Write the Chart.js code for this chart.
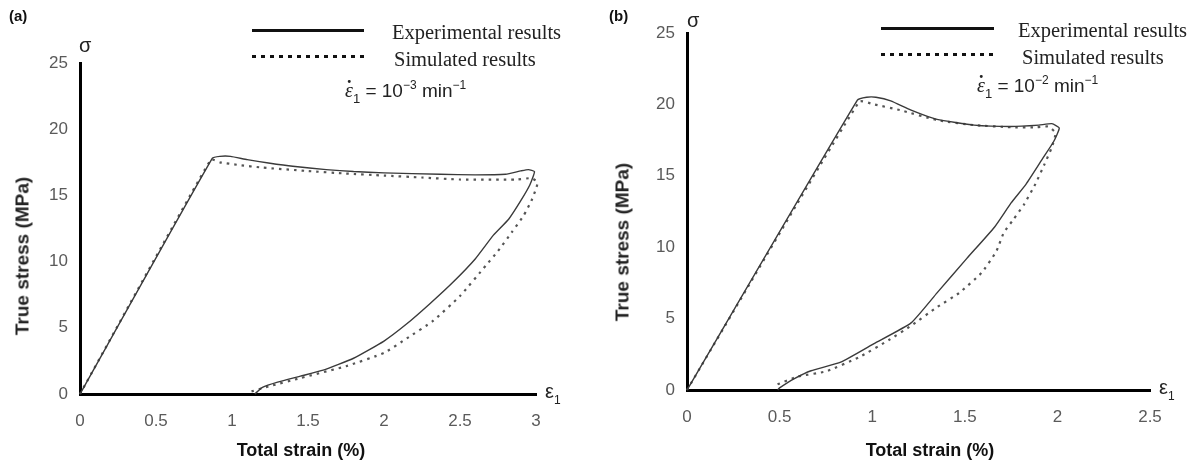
<!DOCTYPE html>
<html>
<head>
<meta charset="utf-8">
<script src="https://cdn.jsdelivr.net/npm/chart.js@4.4.1/dist/chart.umd.min.js"></script>
<style>
  html, body { margin: 0; padding: 0; background: #fff; }
  body { width: 1201px; height: 466px; position: relative; overflow: hidden; font-family: "Liberation Sans", Arial, sans-serif; }
  canvas { position: absolute; top: 0; }
  .t { position: absolute; white-space: nowrap; line-height: 1; transform: translateY(-50%); }
  .bold { font-weight: bold; color: #111; }
  .ytitle { position: absolute; white-space: nowrap; font-weight: bold; font-size: 19px; color: #222; transform: translate(-50%, -50%) rotate(-90deg); line-height: 1; }
  .xtitle { position: absolute; white-space: nowrap; font-weight: bold; font-size: 18px; color: #111; transform: translate(-50%, -50%); line-height: 1; }
  .leg { position: absolute; white-space: nowrap; font-family: "Liberation Serif", serif; font-size: 20.5px; color: #222; transform: translateY(-50%); line-height: 1; }
  .solid { position: absolute; height: 3px; background: #111; }
  .dots { position: absolute; height: 3px; background: repeating-linear-gradient(90deg, #111 0 4px, transparent 4px 9px); }
  .formula { position: absolute; white-space: nowrap; font-size: 19px; color: #222; transform: translateY(-50%); line-height: 1; }
  .formula sup { font-size: 12px; vertical-align: 8px; }
  .formula sub { font-size: 13px; vertical-align: -6px; }
  .eps { position: relative; display: inline-block; font-family: "Liberation Serif", serif; font-style: italic; font-size: 20px; }
  .eps .dot { position: absolute; left: 2px; top: -12px; font-style: normal; font-weight: bold; font-size: 18px; }
  .sym { position: absolute; font-size: 20px; color: #222; transform: translateY(-50%); line-height: 1; }
  .sym sub { font-size: 12px; vertical-align: -6px; }
</style>
</head>
<body>
<canvas id="ca" width="600" height="466" style="left:0px"></canvas>
<canvas id="cb" width="601" height="466" style="left:600px"></canvas>

<!-- panel (a) text -->
<div class="t bold" style="left:9px;top:15px;font-size:15px;">(a)</div>
<div class="sym" style="left:79px;top:45px;">σ</div>
<div class="sym" style="left:545px;top:393px;">ε<sub>1</sub></div>
<div class="ytitle" style="left:22px;top:256px;">True stress (MPa)</div>
<div class="xtitle" style="left:301px;top:450px;">Total strain (%)</div>
<div class="solid" style="left:252px;top:29px;width:112px;"></div>
<div class="leg" style="left:392px;top:32px;">Experimental results</div>
<div class="dots" style="left:252px;top:55px;width:112px;"></div>
<div class="leg" style="left:394px;top:59px;">Simulated results</div>
<div class="formula" style="left:345px;top:92px;"><span class="eps">ε<span class="dot">.</span></span><sub>1</sub> = 10<sup>−3</sup> min<sup>−1</sup></div>

<!-- panel (b) text -->
<div class="t bold" style="left:609px;top:15px;font-size:15px;">(b)</div>
<div class="sym" style="left:687px;top:20px;">σ</div>
<div class="sym" style="left:1159px;top:389px;">ε<sub>1</sub></div>
<div class="ytitle" style="left:622px;top:242px;">True stress (MPa)</div>
<div class="xtitle" style="left:930px;top:450px;">Total strain (%)</div>
<div class="solid" style="left:881px;top:27px;width:113px;"></div>
<div class="leg" style="left:1018px;top:30px;">Experimental results</div>
<div class="dots" style="left:881px;top:53px;width:113px;"></div>
<div class="leg" style="left:1022px;top:57px;">Simulated results</div>
<div class="formula" style="left:977px;top:87px;"><span class="eps">ε<span class="dot">.</span></span><sub>1</sub> = 10<sup>−2</sup> min<sup>−1</sup></div>

<script>
// ---------- Data: panel (a), strain rate 1e-3 /min ----------
const strainExpA = [0, 0.87, 0.92, 0.99, 1.1, 1.24, 1.4, 1.62, 1.8, 2.0, 2.37, 2.6, 2.8, 2.9, 2.95, 2.99, 2.96, 2.9, 2.82, 2.72, 2.6, 2.45, 2.3, 2.15, 2.0, 1.8, 1.6, 1.45, 1.3, 1.2, 1.15];
const stressExpA = [0, 17.8, 17.95, 17.95, 17.7, 17.45, 17.2, 16.95, 16.8, 16.7, 16.6, 16.55, 16.6, 16.85, 16.95, 16.8, 15.8, 14.6, 13.2, 12.0, 10.2, 8.4, 6.8, 5.3, 4.0, 2.7, 1.8, 1.35, 0.9, 0.5, 0];
const strainSimA = [0, 0.86, 0.92, 1.04, 1.2, 1.49, 1.75, 2.0, 2.25, 2.5, 2.87, 2.97, 3.01, 3.0, 2.97, 2.92, 2.84, 2.75, 2.67, 2.5, 2.32, 2.15, 2.0, 1.75, 1.45, 1.25, 1.1];
const stressSimA = [0, 17.7, 17.5, 17.3, 17.1, 16.85, 16.65, 16.5, 16.35, 16.2, 16.2, 16.3, 16.0, 15.5, 14.6, 13.5, 12.2, 10.8, 9.7, 7.4, 5.5, 4.2, 3.1, 2.1, 1.2, 0.6, 0.1];

// ---------- Data: panel (b), strain rate 1e-2 /min ----------
const strainExpB = [0, 0.92, 0.97, 1.02, 1.1, 1.21, 1.35, 1.55, 1.75, 1.9, 1.97, 2.01, 1.98, 1.92, 1.83, 1.75, 1.66, 1.51, 1.35, 1.21, 1.01, 0.83, 0.67, 0.58, 0.5, 0.49];
const stressExpB = [0, 20.3, 20.5, 20.5, 20.25, 19.6, 18.95, 18.55, 18.45, 18.55, 18.65, 18.35, 17.4, 16.2, 14.4, 13.1, 11.4, 9.2, 6.8, 4.7, 3.25, 1.95, 1.35, 0.8, 0.15, 0];
const strainSimB = [0, 0.93, 1.01, 1.15, 1.35, 1.55, 1.75, 1.89, 1.95, 1.99, 1.97, 1.93, 1.88, 1.82, 1.76, 1.71, 1.67, 1.59, 1.47, 1.35, 1.21, 1.09, 0.93, 0.75, 0.6, 0.47];
const stressSimB = [0, 20.2, 20.0, 19.6, 18.9, 18.55, 18.4, 18.4, 18.45, 18.0, 17.0, 15.8, 14.4, 13.0, 11.9, 11.0, 9.7, 8.2, 6.8, 5.8, 4.5, 3.5, 2.3, 1.3, 0.95, 0.3];

// ---------- Axis ranges / tick steps ----------
const xRangeA = [0, 3], xStepA = 0.5;
const xRangeB = [0, 2.5], xStepB = 0.5;
const yRange = [0, 25], yStep = 5;

const toPts = (xs, ys) => xs.map((x, i) => ({ x: x, y: ys[i] }));

function makeChart(id, expX, expY, simX, simY, xRange, xStep, pad, yWidth, xHeight) {
  const tickFont = { family: "'Liberation Sans', Arial, sans-serif", size: 17 };
  const fmt = v => String(Math.round(v * 100) / 100);
  return new Chart(document.getElementById(id), {
    type: 'scatter',
    data: {
      datasets: [
        {
          label: 'Experimental results',
          data: toPts(expX, expY),
          showLine: true,
          borderColor: '#3a3a3a',
          borderWidth: 1.4,
          pointRadius: 0,
          tension: 0.15,
          clip: false
        },
        {
          label: 'Simulated results',
          data: toPts(simX, simY),
          showLine: true,
          borderColor: '#555',
          borderWidth: 2.2,
          borderDash: [2.5, 5],
          pointRadius: 0,
          tension: 0.15,
          clip: false
        }
      ]
    },
    options: {
      responsive: false,
      animation: false,
      devicePixelRatio: 1,
      layout: { padding: pad },
      plugins: { legend: { display: false }, tooltip: { enabled: false } },
      scales: {
        x: {
          type: 'linear',
          min: xRange[0], max: xRange[1],
          ticks: { stepSize: xStep, color: '#5a5a5a', font: tickFont, padding: 17, maxRotation: 0, callback: fmt },
          grid: { drawOnChartArea: false, drawTicks: false },
          border: { display: true, color: '#000', width: 3 },
          afterFit: s => { s.height = xHeight; }
        },
        y: {
          type: 'linear',
          min: yRange[0], max: yRange[1],
          ticks: { stepSize: yStep, color: '#5a5a5a', font: tickFont, padding: 12, callback: fmt },
          grid: { drawOnChartArea: false, drawTicks: false },
          border: { display: true, color: '#000', width: 3 },
          afterFit: s => { s.width = yWidth; }
        }
      }
    }
  });
}

makeChart('ca', strainExpA, stressExpA, strainSimA, stressSimA, xRangeA, xStepA,
  { left: 0, top: 63, right: 64, bottom: 0 }, 80, 72);
makeChart('cb', strainExpB, stressExpB, strainSimB, stressSimB, xRangeB, xStepB,
  { left: 0, top: 33, right: 51, bottom: 0 }, 87, 76);
</script>
</body>
</html>
